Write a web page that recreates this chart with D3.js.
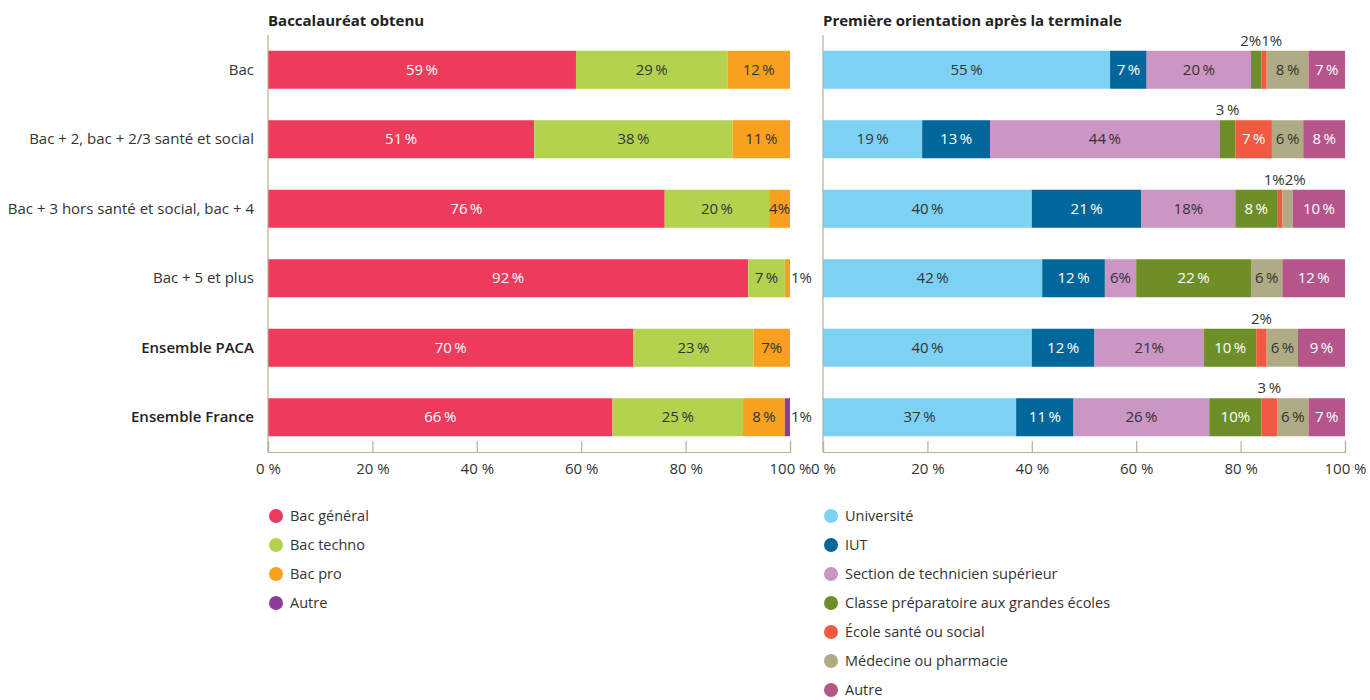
<!DOCTYPE html>
<html><head><meta charset="utf-8">
<script src="https://cdn.jsdelivr.net/npm/d3@7"></script>
<style>body{margin:0;background:#fff;} text{font-family:"Open Sans",sans-serif;}</style>
</head><body><svg id="c" width="1370" height="700"></svg>
<script>
// ---------- DATA ----------
const categories = ["Bac", "Bac + 2, bac + 2/3 santé et social", "Bac + 3 hors santé et social, bac + 4", "Bac + 5 et plus", "Ensemble PACA", "Ensemble France"];
const boldCategories = ["Ensemble PACA", "Ensemble France"];

const bacSeries = ["Bac général", "Bac techno", "Bac pro", "Autre"];
const bacGeneral = [59, 51, 76, 92, 70, 66];
const bacTechno  = [29, 38, 20, 7, 23, 25];
const bacPro     = [12, 11, 4, 1, 7, 8];
const bacAutre   = [0, 0, 0, 0, 0, 1];

const orientSeries = ["Université", "IUT", "Section de technicien supérieur", "Classe préparatoire aux grandes écoles", "École santé ou social", "Médecine ou pharmacie", "Autre"];
const universite = [55, 19, 40, 42, 40, 37];
const iut        = [7, 13, 21, 12, 12, 11];
const sts        = [20, 44, 18, 6, 21, 26];
const cpge       = [2, 3, 8, 22, 10, 10];
const ecoleSante = [1, 7, 1, 0, 2, 3];
const medecine   = [8, 6, 2, 6, 6, 6];
const autreOrient= [7, 8, 10, 12, 9, 7];

const tickValues = [0, 20, 40, 60, 80, 100];
// labels written without a space in the reference ("row|series index")
const compactLabels = ["2|2", "3|2", "4|2", "5|3", "0|3", "0|4", "2|4", "2|5", "4|4"];

// ---------- STYLE ----------
const bacColors = ["#ee3b5c", "#b3d34f", "#f7a11f", "#8c3d99"];
const bacText   = ["#fff", "#333", "#333", "#333"];
const orColors  = ["#7dd2f4", "#00679a", "#cb95c4", "#6e8f28", "#f15a40", "#afac85", "#b5558a"];
const orText    = ["#333", "#fff", "#333", "#fff", "#fff", "#333", "#fff"];
const axisColor = "#b8b28e";
const textColor = "#333";
const FS = 15;

const svg = d3.select("#c");
const y = d3.scaleBand().domain(categories).range([35, 452]).paddingInner(0.453).paddingOuter(0.2265);

function fmt(v, key) {
  return compactLabels.includes(key) ? v + "%" : v + "\u2009%";
}

function drawPanel(x0, x1, title, seriesNames, seriesVals, colors, textCols, smallLimit, smallMode, showCats) {
  const x = d3.scaleLinear().domain([0, 100]).range([x0, x1]);
  const g = svg.append("g");
  g.append("text").attr("x", x0).attr("y", 26).attr("font-size", FS).attr("font-weight", 700)
    .attr("fill", "#222").text(title);

  const rows = categories.map((c, i) => {
    let acc = 0;
    return seriesVals.map((arr, s) => {
      const seg = {cat: c, row: i, s, v: arr[i], start: acc};
      acc += arr[i];
      return seg;
    });
  });
  const segs = rows.flat().filter(d => d.v > 0);

  g.selectAll("rect.seg").data(segs).join("rect")
    .attr("x", d => x(d.start)).attr("width", d => x(d.start + d.v) - x(d.start))
    .attr("y", d => y(d.cat)).attr("height", y.bandwidth())
    .attr("fill", d => colors[d.s]);

  // inside labels
  g.selectAll("text.in").data(segs.filter(d => d.v >= smallLimit)).join("text")
    .attr("x", d => x(d.start + d.v / 2)).attr("y", d => y(d.cat) + y.bandwidth() / 2 + 5)
    .attr("text-anchor", "middle").attr("font-size", FS).attr("fill", d => textCols[d.s])
    .text(d => fmt(d.v, d.row + "|" + d.s));

  // small labels
  rows.forEach(r => {
    const small = r.filter(d => d.v > 0 && d.v < smallLimit);
    if (!small.length) return;
    if (smallMode === "right") {
      small.forEach(d => {
        g.append("text").attr("x", x(100) + 1).attr("y", y(d.cat) + y.bandwidth() / 2 + 5)
          .attr("font-size", FS).attr("fill", textColor).text(fmt(d.v, d.row + "|" + d.s));
      });
    } else {
      const ty = y(small[0].cat) - 5;
      if (small.length === 2) {
        const c0 = x(small[0].start + small[0].v / 2), c1 = x(small[1].start + small[1].v / 2);
        const mid = (c0 + c1) / 2 + 1;
        g.append("text").attr("x", mid).attr("y", ty).attr("text-anchor", "end")
          .attr("font-size", FS).attr("fill", textColor).text(fmt(small[0].v, small[0].row + "|" + small[0].s));
        g.append("text").attr("x", mid).attr("y", ty).attr("text-anchor", "start")
          .attr("font-size", FS).attr("fill", textColor).text(fmt(small[1].v, small[1].row + "|" + small[1].s));
      } else {
        small.forEach(d => {
          g.append("text").attr("x", x(d.start + d.v / 2)).attr("y", ty).attr("text-anchor", "middle")
            .attr("font-size", FS).attr("fill", textColor).text(fmt(d.v, d.row + "|" + d.s));
        });
      }
    }
  });

  // axes
  g.append("line").attr("x1", x0).attr("x2", x0).attr("y1", 35).attr("y2", 452).attr("stroke", axisColor).attr("stroke-width", 1.2);
  const ax = g.append("g").attr("transform", "translate(0,452)")
    .call(d3.axisBottom(x).tickValues(tickValues).tickSize(-11).tickFormat(d => d + " %").tickPadding(11));
  ax.select(".domain").attr("stroke", axisColor).attr("stroke-width", 1.2);
  ax.selectAll(".tick line").attr("stroke", axisColor).attr("stroke-width", 1.2);
  ax.selectAll(".tick text").attr("font-size", FS).attr("fill", textColor).attr("font-family", "Open Sans");

  if (showCats) {
    g.selectAll("text.cat").data(categories).join("text")
      .attr("x", x0 - 14).attr("y", d => y(d) + y.bandwidth() / 2 + 5)
      .attr("text-anchor", "end").attr("font-size", FS)
      .attr("font-weight", d => boldCategories.includes(d) ? 600 : 400)
      .attr("fill", d => boldCategories.includes(d) ? "#222" : textColor).text(d => d);
  }

  // legend
  const lg = g.selectAll("g.lg").data(seriesNames).join("g")
    .attr("transform", (d, i) => `translate(${x0 + 8},${516 + i * 29})`);
  lg.append("circle").attr("r", 7).attr("fill", (d, i) => colors[i]);
  lg.append("text").attr("x", 14).attr("y", 5).attr("font-size", FS - 0.5).attr("fill", textColor).text(d => d);
}

drawPanel(268, 790, "Baccalauréat obtenu", bacSeries, [bacGeneral, bacTechno, bacPro, bacAutre], bacColors, bacText, 3, "right", true);
drawPanel(823, 1345, "Première orientation après la terminale", orientSeries, [universite, iut, sts, cpge, ecoleSante, medecine, autreOrient], orColors, orText, 4, "above", false);
</script></body></html>
